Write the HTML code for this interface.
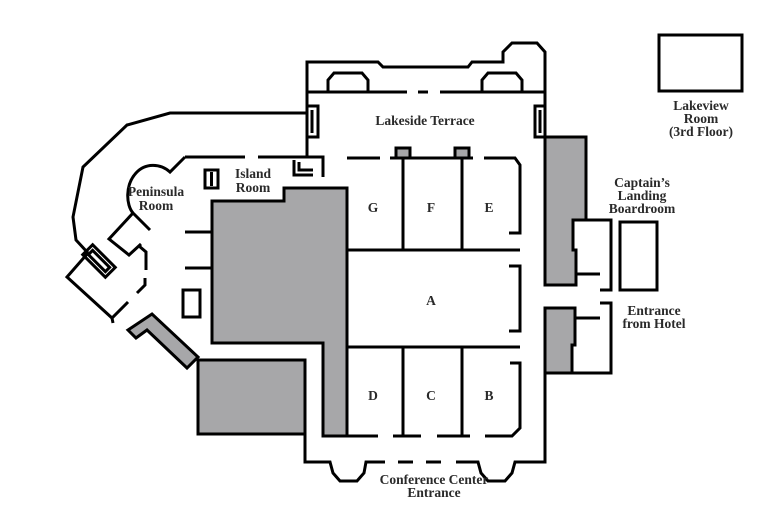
<!DOCTYPE html>
<html><head><meta charset="utf-8"><style>
html,body{margin:0;padding:0;background:#fff;}
svg{display:block;}
text{font-family:"Liberation Serif",serif;font-weight:bold;font-size:13.5px;fill:#2a2a2a;text-anchor:middle;}
</style></head><body>
<svg width="767" height="515" viewBox="0 0 767 515" xmlns="http://www.w3.org/2000/svg">
<g fill="#a7a7a9" stroke="#000" stroke-width="3" stroke-linejoin="miter">
<polygon points="212,201 284,201 284,188 347,188 347,436 323,436 323,343 212,343"/>
<polygon points="198,360 305,360 305,434 198,434"/>
<polygon points="128,330 152,314 198,357 187,368 147,330 136,338"/>
<polygon points="545,137 586,137 586,220 573,220 573,250 576,250 576,285 545,285"/>
<polygon points="545,308 575,308 575,345 572,345 572,373 545,373"/>
<rect x="396" y="148" width="14" height="10"/>
<rect x="455" y="148" width="14" height="10"/>
</g>
<g fill="none" stroke="#000" stroke-width="3" stroke-linejoin="miter">
<polyline points="307,157 307,62 378,62 383,67 468,67 472,62 503,62 503,52 512,43 537,43 545,52 545,137"/>
<line x1="307" y1="92" x2="407" y2="92"/><line x1="418" y1="92" x2="428" y2="92"/><line x1="440" y1="92" x2="545" y2="92"/>
<polyline points="328,92 328,80 334,73 362,73 368,80 368,92"/>
<polyline points="482,92 482,80 488,73 516,73 522,80 522,92"/>
<polyline points="307,106 318,106 318,137 307,137"/><line x1="312" y1="110" x2="312" y2="133"/>
<polyline points="545,106 535,106 535,137 545,137"/><line x1="540" y1="110" x2="540" y2="133"/>
<line x1="347" y1="158" x2="380" y2="158"/>
<line x1="390" y1="158" x2="473" y2="158"/>
<polyline points="484,158 515,158 520,165 520,233 509,233"/>
<line x1="403" y1="158" x2="403" y2="250"/><line x1="462" y1="158" x2="462" y2="250"/>
<line x1="347" y1="250" x2="520" y2="250"/>
<polyline points="509,266 520,266 520,331 509,331"/>
<line x1="347" y1="347" x2="520" y2="347"/>
<line x1="403" y1="347" x2="403" y2="436"/><line x1="462" y1="347" x2="462" y2="436"/>
<line x1="347" y1="436" x2="378" y2="436"/><line x1="393" y1="436" x2="421" y2="436"/>
<line x1="437" y1="436" x2="470" y2="436"/>
<polyline points="485,436 512,436 520,428 520,363 510,363"/>
<polyline points="305,434 305,462 330,462 333,473 340,481 357,481 364,473 366,462 385,462"/>
<line x1="398" y1="462" x2="413" y2="462"/><line x1="426" y1="462" x2="441" y2="462"/>
<polyline points="456,462 478,462 481,473 488,481 505,481 512,473 515,462 545,462 545,373"/>
<polyline points="586,220 611,220 611,290 600,290"/>
<line x1="576" y1="274" x2="600" y2="274"/>
<rect x="620" y="222" width="37" height="68"/>
<polyline points="600,303 611,303 611,373 545,373"/>
<line x1="575" y1="318" x2="600" y2="318"/>
<rect x="659" y="35" width="83" height="56"/>
<polyline points="307,113 170,113 127,125 83,167 73,217 76,240 88,253"/>
<line x1="185" y1="157" x2="245" y2="157"/>
<polyline points="258,157 323,157 323,177"/>
<polyline points="294,160 294,175 313,175"/>
<polyline points="299,162 299,170 313,170"/>
<rect x="205" y="170" width="13" height="18"/><line x1="211.5" y1="172" x2="211.5" y2="186"/>
<path d="M185,157 L170,172 C160,163 145,163 136,173 C125,185 126,205 133,213 L150,230"/>
<polyline points="133,213 109,239 129,255 141,244"/>
<polyline points="139,246 146,252 146,270"/>
<polyline points="145,278 145,285 137,293"/>
<polyline points="88,253 67,277 112,318 128,302"/>
<rect x="92" y="245" width="14" height="32" transform="rotate(-45 99 261)"/>
<rect x="96" y="249" width="6" height="24" transform="rotate(-45 99 261)"/>
<line x1="185" y1="232" x2="212" y2="232"/><line x1="185" y1="268" x2="212" y2="268"/>
<rect x="183" y="290" width="17" height="27"/>
<line x1="112" y1="318" x2="113" y2="323"/>
</g>
<text x="425" y="125">Lakeside Terrace</text>
<text x="373" y="212">G</text><text x="431" y="212">F</text><text x="489" y="212">E</text>
<text x="431" y="305">A</text>
<text x="373" y="400">D</text><text x="431" y="400">C</text><text x="489" y="400">B</text>
<text x="434" y="484">Conference Center</text><text x="434" y="497">Entrance</text>
<text x="701" y="110">Lakeview</text><text x="701" y="123">Room</text><text x="701" y="136">(3rd Floor)</text>
<text x="642" y="187">Captain’s</text><text x="642" y="200">Landing</text><text x="642" y="213">Boardroom</text>
<text x="654" y="315">Entrance</text><text x="654" y="328">from Hotel</text>
<text x="156" y="196">Peninsula</text><text x="156" y="210">Room</text>
<text x="253" y="178">Island</text><text x="253" y="192">Room</text>
</svg>
</body></html>
